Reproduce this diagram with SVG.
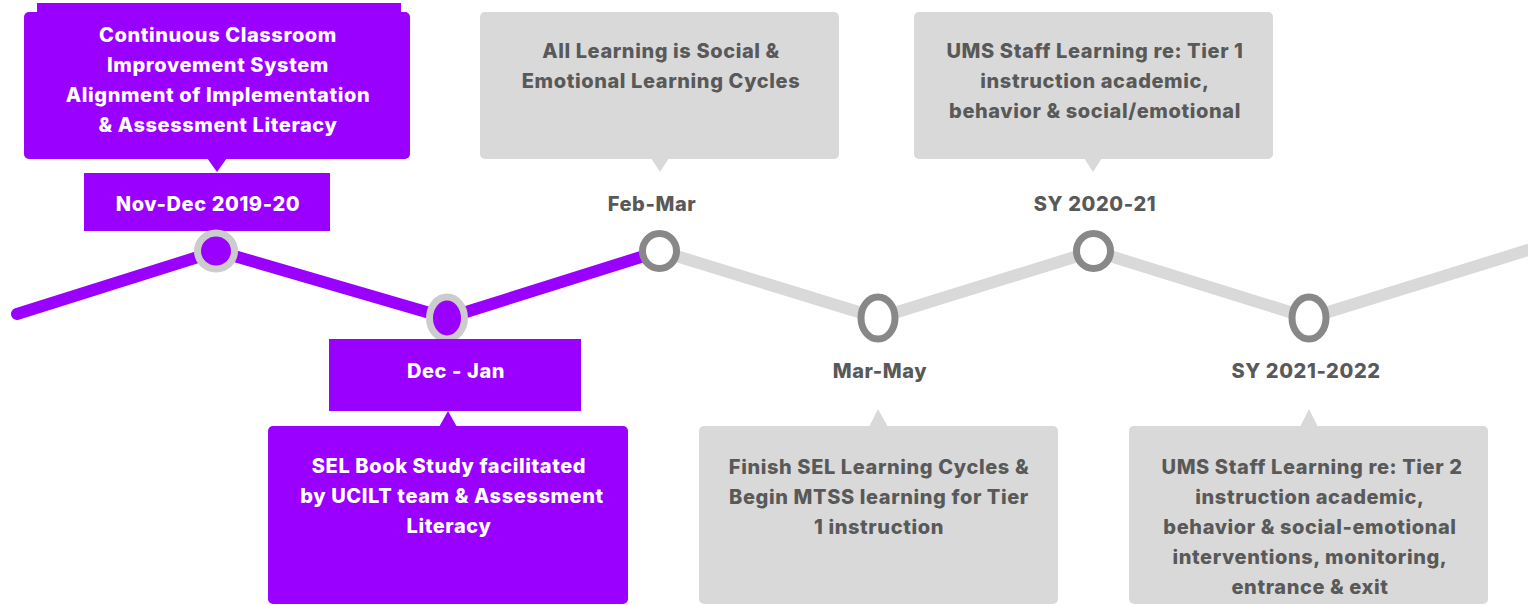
<svg xmlns="http://www.w3.org/2000/svg" width="1528" height="605" viewBox="0 0 1528 605">
  <style>
    .t { font-family: Inter, "Open Sans", "Liberation Sans", sans-serif; font-weight: 800; font-size: 20px; letter-spacing: 0.6px; text-anchor: middle; }
    .w { fill: #FFFFFF; }
    .g { fill: #595959; }
    .purple { fill: #9900FF; }
    .grey { fill: #D9D9D9; }
    .dotDone { fill: #9900FF; stroke: #CCCCCC; stroke-width: 7; }
    .dotTodo { fill: #FFFFFF; stroke: #888888; stroke-width: 7; }
  </style>

  <!-- timeline track -->
  <g id="connectors" fill="none" stroke-linecap="round" stroke-linejoin="round" stroke-width="12">
    <polyline points="660,251 878,318 1094,251 1309,318 1528,250" stroke="#D9D9D9"/>
    <polyline points="17,314 217,251 447,318 660,251" stroke="#9900FF"/>
  </g>

  <!-- Nov-Dec 2019-20 -->
  <g id="node-nov-dec">
    <rect class="purple" x="37" y="3" width="364" height="12"/>
    <rect class="purple" x="24" y="12" width="386" height="147" rx="5"/>
    <polygon class="purple" points="207,158 227,158 217,172"/>
    <text class="t w" x="218" y="42">Continuous Classroom</text>
    <text class="t w" x="218" y="72">Improvement System</text>
    <text class="t w" x="218" y="102">Alignment of Implementation</text>
    <text class="t w" x="218" y="132">&amp; Assessment Literacy</text>
    <rect class="purple" x="84" y="173" width="246" height="58"/>
    <text class="t w" x="208" y="211">Nov-Dec 2019-20</text>
    <ellipse class="dotDone" cx="216" cy="251" rx="18.5" ry="18"/>
  </g>

  <!-- Dec - Jan -->
  <g id="node-dec-jan">
    <ellipse class="dotDone" cx="447" cy="318" rx="17.5" ry="21"/>
    <rect class="purple" x="329" y="339" width="252" height="72"/>
    <text class="t w" x="456" y="378">Dec - Jan</text>
    <polygon class="purple" points="439,427 457,427 448,411"/>
    <rect class="purple" x="268" y="426" width="360" height="178" rx="5"/>
    <text class="t w" x="449" y="473">SEL Book Study facilitated </text>
    <text class="t w" x="452" y="503">by UCILT team &amp; Assessment</text>
    <text class="t w" x="449" y="533">Literacy</text>
  </g>

  <!-- Feb-Mar -->
  <g id="node-feb-mar">
    <rect class="grey" x="480" y="12" width="359" height="147" rx="5"/>
    <polygon class="grey" points="651,158 669,158 660,172"/>
    <text class="t g" x="661" y="58">All Learning is Social &amp;</text>
    <text class="t g" x="661" y="88">Emotional Learning Cycles</text>
    <text class="t g" x="652" y="211">Feb-Mar</text>
    <ellipse class="dotTodo" cx="659.5" cy="251" rx="17" ry="17.5"/>
  </g>

  <!-- Mar-May -->
  <g id="node-mar-may">
    <ellipse class="dotTodo" cx="878" cy="318" rx="17" ry="21"/>
    <text class="t g" x="880" y="378">Mar-May</text>
    <polygon class="grey" points="869,427 888,427 878,409"/>
    <rect class="grey" x="699" y="426" width="359" height="178" rx="5"/>
    <text class="t g" x="879" y="474">Finish SEL Learning Cycles &amp;</text>
    <text class="t g" x="879" y="504">Begin MTSS learning for Tier</text>
    <text class="t g" x="879" y="534">1 instruction</text>
  </g>

  <!-- SY 2020-21 -->
  <g id="node-sy-2020-21">
    <rect class="grey" x="914" y="12" width="359" height="147" rx="5"/>
    <polygon class="grey" points="1084,158 1102,158 1093,172"/>
    <text class="t g" x="1095" y="58">UMS Staff Learning re: Tier 1</text>
    <text class="t g" x="1095" y="88">instruction academic,</text>
    <text class="t g" x="1095" y="118">behavior &amp; social/emotional</text>
    <text class="t g" x="1095" y="211">SY 2020-21</text>
    <ellipse class="dotTodo" cx="1093.5" cy="251" rx="17" ry="17.5"/>
  </g>

  <!-- SY 2021-2022 -->
  <g id="node-sy-2021-2022">
    <ellipse class="dotTodo" cx="1309" cy="318" rx="17" ry="21"/>
    <text class="t g" x="1306" y="378">SY 2021-2022</text>
    <polygon class="grey" points="1300,427 1318,427 1309,409"/>
    <rect class="grey" x="1129" y="426" width="359" height="178" rx="5"/>
    <text class="t g" x="1312" y="474">UMS Staff Learning re: Tier 2</text>
    <text class="t g" x="1310" y="504">instruction academic,</text>
    <text class="t g" x="1310" y="534">behavior &amp; social-emotional</text>
    <text class="t g" x="1310" y="564">interventions, monitoring,</text>
    <text class="t g" x="1310" y="594">entrance &amp; exit</text>
  </g>
</svg>
